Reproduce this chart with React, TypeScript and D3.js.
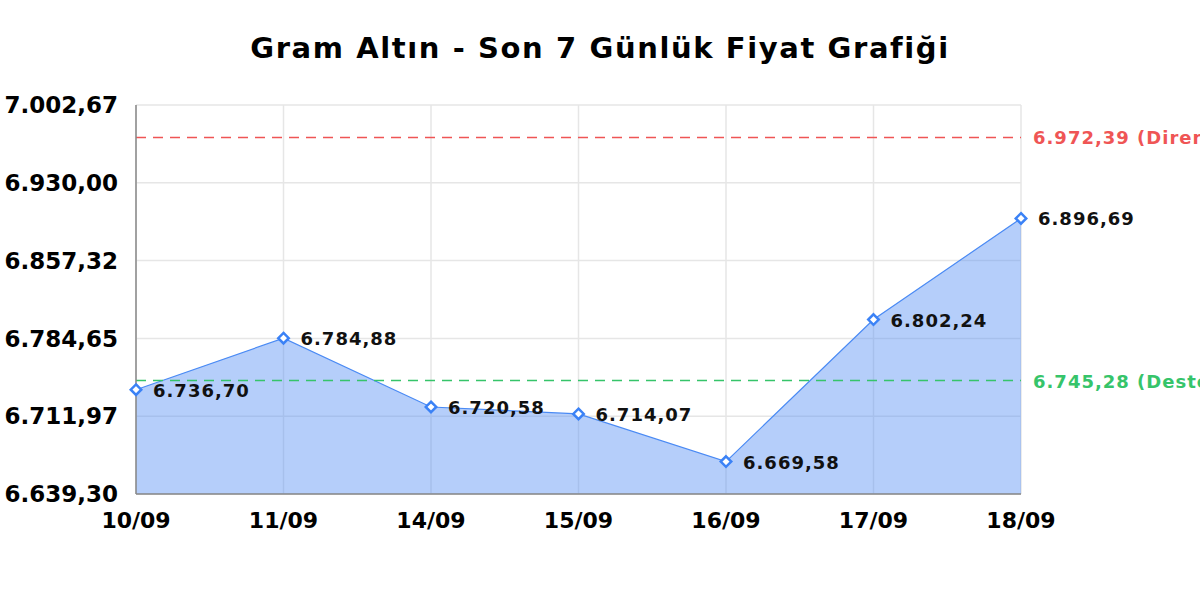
import * as d3 from 'd3'
import { useEffect, useRef } from 'react'

const dates = ['10/09', '11/09', '14/09', '15/09', '16/09', '17/09', '18/09']
const prices = [6736.7, 6784.88, 6720.58, 6714.07, 6669.58, 6802.24, 6896.69]
const yTicks = [6639.3, 6711.97, 6784.65, 6857.32, 6930.0, 7002.67]
const resistance = 6972.39
const support = 6745.28

const fmt = (v: number) =>
  v.toLocaleString('tr-TR', { minimumFractionDigits: 2, maximumFractionDigits: 2 })

export default function App() {
  const svgRef = useRef<SVGSVGElement | null>(null)

  useEffect(() => {
    if (!svgRef.current) return
    const svg = d3.select(svgRef.current)
    svg.selectAll('*').remove()

    const width = 1200
    const height = 600
    const margin = { top: 105, right: 179, bottom: 106, left: 136 }
    const innerWidth = width - margin.left - margin.right
    const innerHeight = height - margin.top - margin.bottom
    const font = '"DejaVu Sans", sans-serif'

    const x = d3.scalePoint().domain(dates).range([0, innerWidth])
    const y = d3
      .scaleLinear()
      .domain([yTicks[0], yTicks[yTicks.length - 1]])
      .range([innerHeight, 0])

    svg
      .append('text')
      .attr('x', 600)
      .attr('y', 58)
      .attr('text-anchor', 'middle')
      .style('font-family', font)
      .style('font-weight', 'bold')
      .style('font-size', '29px')
      .style('letter-spacing', '1.6px')
      .text('Gram Altın - Son 7 Günlük Fiyat Grafiği')

    const g = svg.append('g').attr('transform', `translate(${margin.left},${margin.top})`)

    // grid
    g.selectAll('.hgrid')
      .data(yTicks)
      .join('line')
      .attr('x1', 0)
      .attr('x2', innerWidth)
      .attr('y1', (d) => y(d))
      .attr('y2', (d) => y(d))
      .attr('stroke', '#e6e6e6')
      .attr('stroke-width', 1.5)

    g.selectAll('.vgrid')
      .data(dates)
      .join('line')
      .attr('x1', (d) => x(d) || 0)
      .attr('x2', (d) => x(d) || 0)
      .attr('y1', 0)
      .attr('y2', innerHeight)
      .attr('stroke', '#e6e6e6')
      .attr('stroke-width', 1.5)

    const area = d3
      .area<number>()
      .x((_, i) => x(dates[i]) || 0)
      .y0(innerHeight)
      .y1((d) => y(d))

    const line = d3
      .line<number>()
      .x((_, i) => x(dates[i]) || 0)
      .y((d) => y(d))

    g.append('path')
      .datum(prices)
      .attr('d', area)
      .attr('fill', 'rgba(91, 147, 245, 0.45)')

    g.append('path')
      .datum(prices)
      .attr('d', line)
      .attr('fill', 'none')
      .attr('stroke', '#4a8af4')
      .attr('stroke-width', 1.2)

    // reference lines
    const refs = [
      { v: resistance, color: '#ef5555', label: `${fmt(resistance)} (Direnç)` },
      { v: support, color: '#36c46a', label: `${fmt(support)} (Destek)` },
    ]
    refs.forEach((r) => {
      g.append('line')
        .attr('x1', 0)
        .attr('x2', innerWidth)
        .attr('y1', y(r.v))
        .attr('y2', y(r.v))
        .attr('stroke', r.color)
        .attr('stroke-width', 1.5)
        .attr('stroke-dasharray', '10,7')
      g.append('text')
        .attr('x', innerWidth + 12)
        .attr('y', y(r.v) + 7)
        .attr('fill', r.color)
        .style('font-family', font)
        .style('font-weight', 'bold')
        .style('font-size', '18px')
        .style('letter-spacing', '1px')
        .text(r.label)
    })

    // axes
    g.append('line')
      .attr('x1', 0)
      .attr('x2', 0)
      .attr('y1', 0)
      .attr('y2', innerHeight)
      .attr('stroke', '#888')
      .attr('stroke-width', 1.5)
    g.append('line')
      .attr('x1', 0)
      .attr('x2', innerWidth)
      .attr('y1', innerHeight)
      .attr('y2', innerHeight)
      .attr('stroke', '#888')
      .attr('stroke-width', 1.5)

    g.selectAll('.ylab')
      .data(yTicks)
      .join('text')
      .attr('x', -18)
      .attr('y', (d) => y(d))
      .attr('dy', '0.36em')
      .attr('text-anchor', 'end')
      .style('font-family', font)
      .style('font-weight', 'bold')
      .style('font-size', '23px')
      .text((d) => fmt(d))

    g.selectAll('.xlab')
      .data(dates)
      .join('text')
      .attr('x', (d) => x(d) || 0)
      .attr('y', innerHeight + 34)
      .attr('text-anchor', 'middle')
      .style('font-family', font)
      .style('font-weight', 'bold')
      .style('font-size', '22px')
      .text((d) => d)

    // markers
    const diamond = d3.symbol().type(d3.symbolDiamond2).size(70)
    g.selectAll('.pt')
      .data(prices)
      .join('path')
      .attr('d', diamond)
      .attr('transform', (d, i) => `translate(${x(dates[i])},${y(d)})`)
      .attr('fill', '#fff')
      .attr('stroke', '#3b82f6')
      .attr('stroke-width', 2.5)

    g.selectAll('.plab')
      .data(prices)
      .join('text')
      .attr('x', (_, i) => (x(dates[i]) || 0) + 17)
      .attr('y', (d) => y(d) + 7)
      .style('font-family', font)
      .style('font-weight', 'bold')
      .style('font-size', '18px')
      .style('letter-spacing', '1px')
      .attr('fill', '#111')
      .text((d) => fmt(d))
  }, [])

  return (
    <svg
      ref={svgRef}
      width={1200}
      height={600}
      style={{ display: 'block', position: 'absolute', left: 0, top: 0, background: '#fff' }}
    />
  )
}
